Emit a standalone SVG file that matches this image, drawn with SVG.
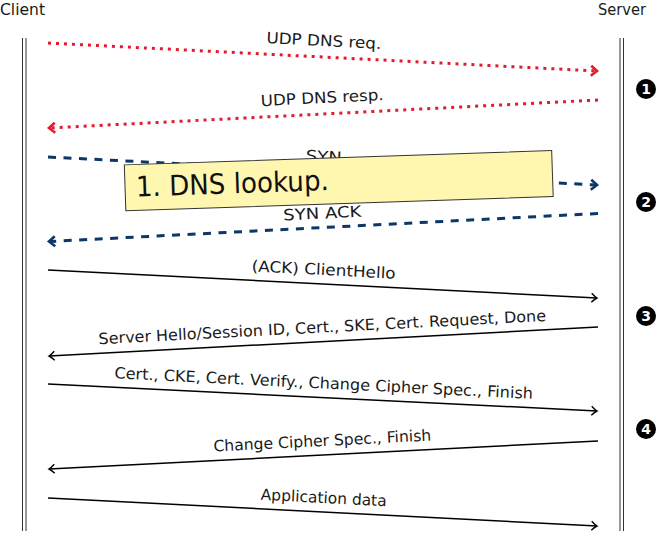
<svg xmlns="http://www.w3.org/2000/svg" width="659" height="534" viewBox="0 0 659 534">
<style>
  .t { font-family: "DejaVu Sans", "Liberation Sans", sans-serif; font-size: 15.5px; fill: #1a1a1a; }
  .hd { font-size: 15px; }
  .lbl { text-anchor: middle; }
  .life { stroke: #333; stroke-width: 1; fill: none; }
  .red { stroke: #e31b2f; stroke-width: 3; stroke-dasharray: 3 5; fill: none; }
  .navy { stroke: #0c3766; stroke-width: 3; stroke-dasharray: 8 7.5; fill: none; }
  .blk { stroke: #000; stroke-width: 1.5; fill: none; }
  .step circle { fill: #000; }
  .step text { font-family: "DejaVu Sans", sans-serif; font-weight: bold; font-size: 14px; fill: #fff; text-anchor: middle; }
</style>
<defs>
  <marker id="ah-red" markerUnits="userSpaceOnUse" markerWidth="14" markerHeight="14" refX="0" refY="0" viewBox="-8 -7 10 14" orient="auto">
    <path d="M-6,-5 L0,0 L-6,5" fill="none" stroke="#e31b2f" stroke-width="2.6" stroke-dasharray="none"/>
  </marker>
  <marker id="ah-navy" markerUnits="userSpaceOnUse" markerWidth="14" markerHeight="14" refX="0" refY="0" viewBox="-8 -7 10 14" orient="auto">
    <path d="M-6,-5 L0,0 L-6,5" fill="none" stroke="#0c3766" stroke-width="2.6" stroke-dasharray="none"/>
  </marker>
  <marker id="ah-blk" markerUnits="userSpaceOnUse" markerWidth="14" markerHeight="14" refX="0" refY="0" viewBox="-8 -7 10 14" orient="auto">
    <path d="M-5.5,-4.5 Q-2,-1 0,0 Q-2,1 -5.5,4.5" fill="none" stroke="#000" stroke-width="1.4"/>
  </marker>
</defs>

<g id="client">
  <text class="t hd" x="0" y="14.5" textLength="45" lengthAdjust="spacingAndGlyphs">Client</text>
  <line class="life" x1="22.5" y1="38" x2="22.5" y2="531"/>
  <line class="life" x1="26" y1="38" x2="26" y2="531"/>
</g>
<g id="server">
  <text class="t hd" x="598" y="14.5" textLength="48" lengthAdjust="spacingAndGlyphs">Server</text>
  <line class="life" x1="620" y1="38" x2="620" y2="531"/>
  <line class="life" x1="623.5" y1="38" x2="623.5" y2="531"/>
</g>

<g id="connectors">
  <line class="red" x1="48" y1="43" x2="597" y2="71" marker-end="url(#ah-red)"/>
  <line class="red" x1="598" y1="100" x2="49" y2="128" marker-end="url(#ah-red)"/>
  <line class="navy" x1="48" y1="157" x2="597" y2="185" marker-end="url(#ah-navy)"/>
  <line class="navy" x1="598" y1="213.5" x2="49" y2="241.5" marker-end="url(#ah-navy)"/>
  <line class="blk" x1="48" y1="270" x2="597" y2="298" marker-end="url(#ah-blk)"/>
  <line class="blk" x1="598" y1="327" x2="49" y2="356" marker-end="url(#ah-blk)"/>
  <line class="blk" x1="48" y1="384" x2="597" y2="411" marker-end="url(#ah-blk)"/>
  <line class="blk" x1="598" y1="441" x2="49" y2="469" marker-end="url(#ah-blk)"/>
  <line class="blk" x1="48" y1="498" x2="597" y2="526" marker-end="url(#ah-blk)"/>
</g>

<g id="labels">
  <g transform="translate(323,57) rotate(2.92)"><text class="t lbl" x="0" y="-11" textLength="115" lengthAdjust="spacingAndGlyphs">UDP DNS req.</text></g>
  <g transform="translate(323,114) rotate(-2.92)"><text class="t lbl" x="0" y="-11" textLength="123" lengthAdjust="spacingAndGlyphs">UDP DNS resp.</text></g>
  <g transform="translate(323,171) rotate(2.92)"><text class="t lbl" x="0" y="-9" textLength="36" lengthAdjust="spacingAndGlyphs">SYN</text></g>
  <g transform="translate(323,227.5) rotate(-2.92)"><text class="t lbl" x="0" y="-9" textLength="78" lengthAdjust="spacingAndGlyphs">SYN ACK</text></g>
  <g transform="translate(323,284) rotate(2.92)"><text class="t lbl" x="0" y="-9" textLength="144" lengthAdjust="spacingAndGlyphs">(ACK) ClientHello</text></g>
  <g transform="translate(323,341.5) rotate(-2.98)"><text class="t lbl" x="0" y="-9" textLength="448" lengthAdjust="spacingAndGlyphs">Server Hello/Session ID, Cert., SKE, Cert. Request, Done</text></g>
  <g transform="translate(323,397.5) rotate(2.82)"><text class="t lbl" x="0" y="-9" textLength="419" lengthAdjust="spacingAndGlyphs">Cert., CKE, Cert. Verify., Change Cipher Spec., Finish</text></g>
  <g transform="translate(323,455) rotate(-2.92)"><text class="t lbl" x="0" y="-9" textLength="218" lengthAdjust="spacingAndGlyphs">Change Cipher Spec., Finish</text></g>
  <g transform="translate(323,512) rotate(2.92)"><text class="t lbl" x="0" y="-9" textLength="126" lengthAdjust="spacingAndGlyphs">Application data</text></g>
</g>

<g id="note" transform="translate(338.75,180.7) rotate(-1.92)">
  <rect x="-213.8" y="-23" width="427.6" height="46" fill="#fff6b0" stroke="#333" stroke-width="1"/>
  <text x="-203" y="9" font-family="DejaVu Sans, Liberation Sans, sans-serif" font-size="28" fill="#111" textLength="193" lengthAdjust="spacingAndGlyphs">1. DNS lookup.</text>
</g>

<g id="step1" class="step"><circle cx="646" cy="89" r="10"/><text x="646" y="94">1</text></g>
<g id="step2" class="step"><circle cx="646" cy="202" r="10"/><text x="646" y="207">2</text></g>
<g id="step3" class="step"><circle cx="646" cy="316" r="10"/><text x="646" y="321">3</text></g>
<g id="step4" class="step"><circle cx="646" cy="429" r="10"/><text x="646" y="434">4</text></g>
</svg>
